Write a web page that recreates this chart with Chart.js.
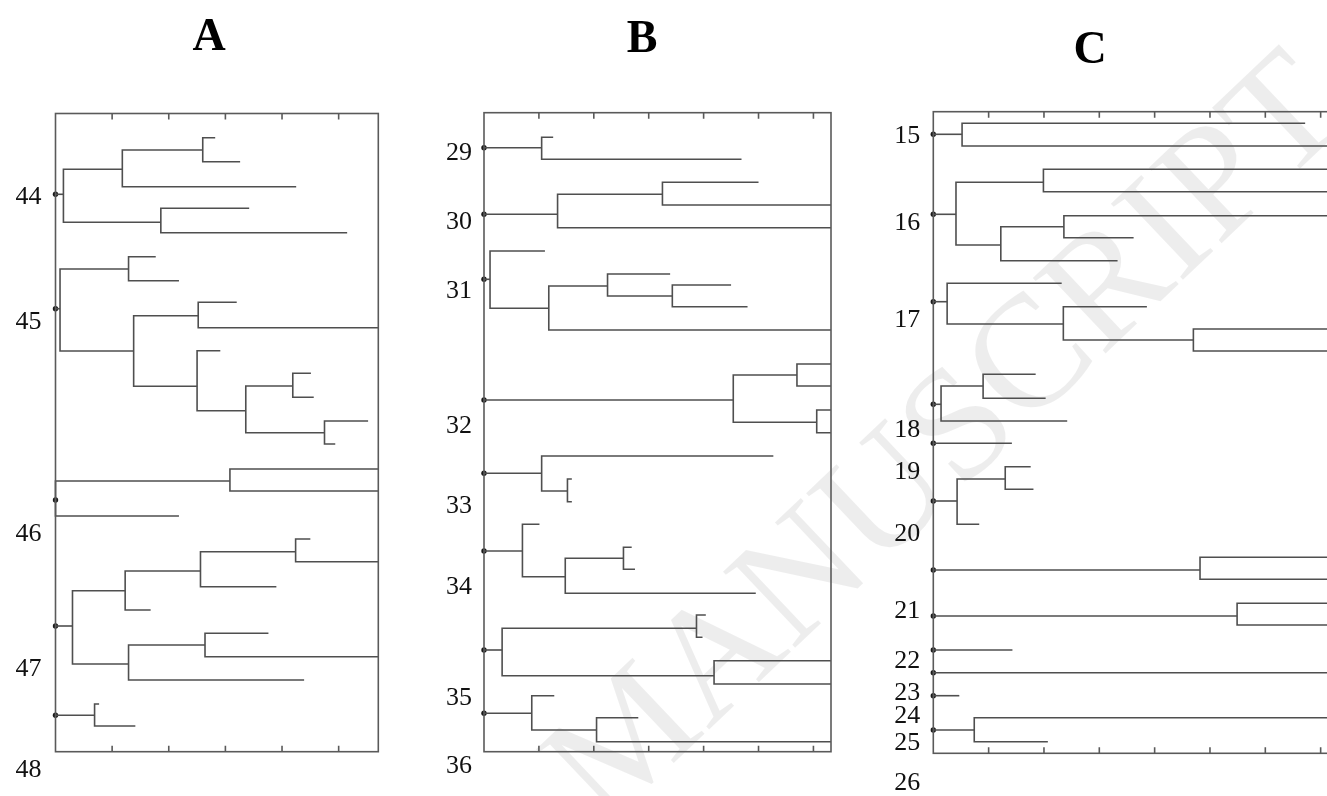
<!DOCTYPE html>
<html>
<head>
<meta charset="utf-8">
<script src="https://cdn.jsdelivr.net/npm/chart.js@4/dist/chart.umd.min.js"></script>
<style>
html,body{margin:0;padding:0;width:1327px;height:796px;overflow:hidden;background:#fff;}
canvas{position:absolute;left:0;top:0;}
</style>
</head>
<body>
<canvas id="cA" width="1327" height="796"></canvas>
<canvas id="cB" width="1327" height="796"></canvas>
<canvas id="cC" width="1400" height="796"></canvas>
<script>
// ---------- Panel A (clusters 44-48) ----------
const A_labels   = ['44','45','46','47','48'];
const A_labelPos = [84, 208.5, 420.5, 555.5, 656.5];
const A_ticks    = [1,2,3,4,5];
const A_nodeX = [0.14,1.18,2.60,2.82,3.26,4.25,1.86,3.42,5.15,
                 0.08,1.29,1.77,2.18,1.38,2.52,3.20,5.70,2.50,2.91,3.36,4.19,4.51,4.56,4.75,5.52,4.94,
                 0,3.08,5.70,5.70,2.18,
                 0.30,1.23,2.56,4.24,4.50,5.70,3.90,1.68,1.29,2.64,3.76,5.70,4.39,
                 0.69,0.77,1.41];
const A_nodeY = [80.8,55.8,36.5,24.2,48.2,73.2,108.8,94.8,119.2,
                 195.2,155.5,143.2,167.2,237.5,202.2,188.8,214.2,272.8,237.2,297.2,272.5,259.8,283.8,319.2,307.5,330.5,
                 386.5,367.5,355.5,377.5,402.5,
                 512.5,477.2,457.5,438.2,425.5,448.2,473.2,496.5,550.5,531.5,519.8,543.2,566.5,
                 601.8,590.5,612.5];
const A_parent = [-1,0,1,2,2,1,0,6,6,
                  -1,9,10,10,9,13,14,14,13,17,17,19,20,20,19,23,23,
                  -1,26,27,27,26,
                  -1,31,32,33,34,34,33,32,31,39,40,40,39,
                  -1,44,44];

// ---------- Panel B (clusters 29-36) ----------
const B_labels   = ['29','30','31','32','33','34','35','36'];
const B_labelPos = [40, 109, 178, 313.3, 393, 474.6, 585, 653.3];
const B_ticks    = [1,2,3,4,5,6];
const B_nodeX = [1.05,1.26,4.69,
                 1.34,3.25,5.00,6.32,6.32,
                 0.11,1.11,1.18,2.25,3.39,3.43,4.50,4.80,6.32,
                 4.54,5.70,6.32,6.32,6.06,6.32,6.32,
                 1.05,5.27,1.52,1.60,1.60,
                 0.70,1.01,1.48,2.54,2.69,2.75,4.95,
                 0.33,3.87,4.04,3.98,4.19,6.32,6.32,
                 0.87,1.28,2.05,2.81,6.32];
const B_nodeY = [35,24.6,46.6,
                 101.6,81.6,69.6,92.3,115,
                 166.6,138.3,195.6,173.3,161.3,183.3,172.3,194,217.3,
                 287.3,262.3,251.3,273.3,309.6,297.3,320,
                 360.6,343.3,378.3,366.3,389,
                 438.3,411.6,464,445.6,434.6,456.6,480.6,
                 537.3,515.6,502.3,524.6,563,548,571.3,
                 600.6,583,617.3,605,629];
const B_parent = [-1,0,0,
                  -1,3,4,4,3,
                  -1,8,8,10,11,11,13,13,10,
                  -1,17,18,18,17,21,21,
                  -1,24,24,26,26,
                  -1,29,29,31,32,32,31,
                  -1,36,37,37,36,40,40,
                  -1,43,43,45,45];

// ---------- Panel C (clusters 15-26) ----------
const C_labels   = ['15','16','17','18','19','20','21','22','23','24','25','26'];
const C_labelPos = [24, 111.6, 208.3, 318.3, 360.6, 422.6, 499, 549.3, 581.6, 604.3, 631.6, 671.6];
const C_ticks    = [1,2,3,4,5,6,7];
const C_nodeX = [0.52,6.72,7.44,
                 0.41,1.99,7.44,7.44,1.22,2.36,7.44,3.62,3.33,
                 0.25,2.32,2.35,3.86,4.70,7.44,7.44,
                 0.14,0.90,1.85,2.03,2.42,
                 1.42,
                 0.43,1.30,1.76,1.81,0.83,
                 4.82,7.44,7.44,
                 5.49,7.44,7.44,
                 1.43,
                 7.44,
                 0.47,
                 0.74,7.44,2.07];
const C_nodeY = [22.6,11.6,34.3,
                 102.6,70.6,57.6,80,133.3,115,104,126,149,
                 190,171.6,212.3,195,228.3,217.3,239.3,
                 292.6,274.3,262.6,286.6,309.3,
                 331.6,
                 389.3,367.3,355,377.6,412.6,
                 458.3,445.6,467.6,
                 504.3,491.6,513.3,
                 538.3,
                 561,
                 584,
                 618.3,606,630];
const C_parent = [-1,0,0,
                  -1,3,4,4,3,7,8,8,7,
                  -1,12,12,14,14,16,16,
                  -1,19,20,20,19,
                  -1,
                  -1,25,26,26,25,
                  -1,30,30,
                  -1,33,33,
                  -1,
                  -1,
                  -1,
                  -1,39,39];

// ---------- styling ----------
const LINE = '#4f4f4f', LW = 1.6, FRAME = '#5a5a5a';
const SERIF = '"Liberation Serif","Times New Roman",serif';

function buildDatasets(nx, ny, np) {
  const kids = nx.map(() => []);
  np.forEach((p, i) => { if (p >= 0) kids[p].push(i); });
  const sets = [];
  const line = pts => sets.push({data: pts, showLine: true, borderColor: LINE, borderWidth: LW,
    pointRadius: 0, pointHoverRadius: 0, clip: false, fill: false, borderJoinStyle: 'miter', borderCapStyle: 'butt'});
  const roots = [];
  np.forEach((p, i) => {
    if (p < 0) { roots.push(i); line([{x: 0, y: ny[i]}, {x: nx[i], y: ny[i]}]); }
    const k = kids[i].slice().sort((a, b) => ny[a] - ny[b]);
    if (k.length === 2) {
      line([{x: nx[k[0]], y: ny[k[0]]}, {x: nx[i], y: ny[k[0]]},
            {x: nx[i], y: ny[k[1]]}, {x: nx[k[1]], y: ny[k[1]]}]);
    } else if (k.length > 2) {
      line([{x: nx[i], y: ny[k[0]]}, {x: nx[i], y: ny[k[k.length - 1]]}]);
      k.forEach(c => line([{x: nx[i], y: ny[c]}, {x: nx[c], y: ny[c]}]));
    }
  });
  sets.push({data: roots.map(i => ({x: 0, y: ny[i]})), showLine: false, pointRadius: 2.7,
    pointBackgroundColor: '#1a1a1a', pointBorderWidth: 0, clip: false});
  return sets;
}

function framePlugin(ticks, labels, labelPos, labelDx, title, watermark) {
  return {
    id: 'frame',
    beforeDraw(chart) {
      if (!watermark) return;
      const ctx = chart.ctx;
      ctx.save();
      ctx.translate(1324, 88);
      ctx.rotate(-43.5 * Math.PI / 180);
      ctx.font = '160px ' + SERIF;
      ctx.fillStyle = 'rgba(0,0,0,0.07)';
      ctx.textAlign = 'right';
      ctx.textBaseline = 'middle';
      ctx.fillText('ACCEPTED MANUSCRIPT', 0, 0);
      ctx.restore();
    },
    afterDatasetsDraw(chart) {
      const {ctx, chartArea: a, scales: {x, y}} = chart;
      ctx.save();
      ctx.strokeStyle = FRAME; ctx.lineWidth = 1.6;
      ctx.strokeRect(a.left, a.top, a.right - a.left, a.bottom - a.top);
      ctx.beginPath();
      ticks.forEach(v => {
        const px = x.getPixelForValue(v);
        ctx.moveTo(px, a.top); ctx.lineTo(px, a.top + 6);
        ctx.moveTo(px, a.bottom); ctx.lineTo(px, a.bottom - 6);
      });
      ctx.stroke();
      ctx.fillStyle = '#111';
      ctx.font = '26px ' + SERIF;
      ctx.textAlign = 'center'; ctx.textBaseline = 'middle';
      labels.forEach((t, i) => ctx.fillText(t, a.left - labelDx, y.getPixelForValue(labelPos[i])));
      ctx.font = 'bold 46px ' + SERIF;
      ctx.textBaseline = 'alphabetic';
      ctx.fillStyle = '#000';
      ctx.fillText(title.text, title.cx, title.base);
      ctx.restore();
    }
  };
}

function makeChart(id, nx, ny, np, xmax, ymax, pad, ticks, labels, labelPos, labelDx, title, watermark) {
  return new Chart(document.getElementById(id), {
    type: 'scatter',
    data: {datasets: buildDatasets(nx, ny, np)},
    options: {
      responsive: false, animation: false, devicePixelRatio: 1, events: [],
      layout: {padding: pad},
      scales: {
        x: {type: 'linear', min: 0, max: xmax, display: false},
        y: {type: 'linear', min: 0, max: ymax, reverse: true, display: false}
      },
      plugins: {legend: {display: false}, tooltip: {enabled: false}}
    },
    plugins: [framePlugin(ticks, labels, labelPos, labelDx, title, watermark)]
  });
}

makeChart('cA', A_nodeX, A_nodeY, A_parent, 5.70, 638.2,
  {left: 55.5, top: 113.5, right: 948.7, bottom: 44.3},
  A_ticks, A_labels, A_labelPos, 27, {text: 'A', cx: 209, base: 50}, true);
makeChart('cB', B_nodeX, B_nodeY, B_parent, 6.32, 639,
  {left: 484, top: 112.7, right: 496, bottom: 44.3},
  B_ticks, B_labels, B_labelPos, 25, {text: 'B', cx: 642, base: 52}, false);
makeChart('cC', C_nodeX, C_nodeY, C_parent, 7.44, 641.6,
  {left: 933.3, top: 111.7, right: 55, bottom: 42.7},
  C_ticks, C_labels, C_labelPos, 26, {text: 'C', cx: 1090, base: 63}, false);
</script>
</body>
</html>
